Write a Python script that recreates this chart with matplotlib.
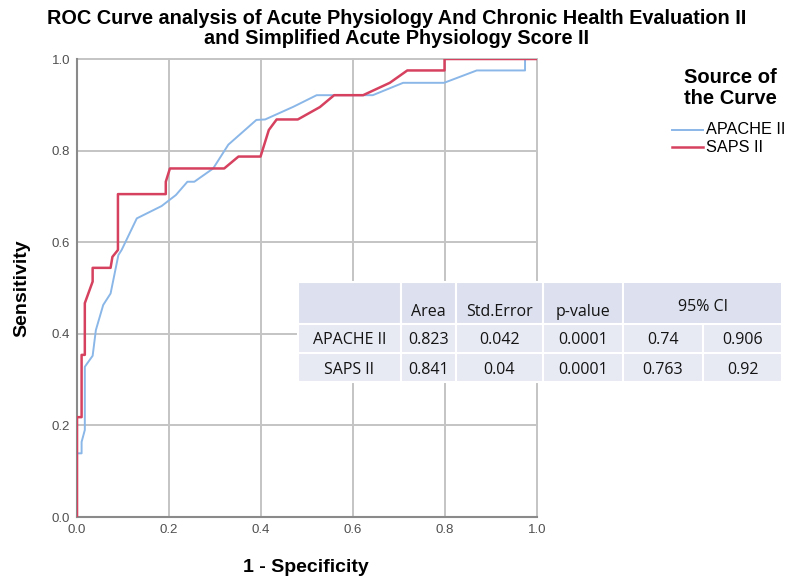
import matplotlib.pyplot as plt
from matplotlib.patches import Rectangle
from matplotlib.lines import Line2D

plt.rcParams['font.family'] = ['Liberation Sans', 'DejaVu Sans']

# ROC points (1 - specificity, sensitivity)
apache_fpr = [0.0, 0.0, 0.010, 0.010, 0.017, 0.017, 0.034, 0.041, 0.057, 0.073, 0.090, 0.097,
              0.130, 0.184, 0.215, 0.240, 0.255, 0.296, 0.329, 0.390, 0.409, 0.471, 0.521,
              0.643, 0.709, 0.798, 0.869, 0.974, 0.974, 1.0]
apache_tpr = [0.0, 0.139, 0.139, 0.164, 0.190, 0.328, 0.352, 0.408, 0.463, 0.488, 0.572, 0.583,
              0.652, 0.679, 0.703, 0.732, 0.732, 0.761, 0.813, 0.867, 0.868, 0.896, 0.921,
              0.921, 0.948, 0.948, 0.975, 0.975, 1.0, 1.0]

saps_fpr = [0.0, 0.0, 0.010, 0.010, 0.017, 0.017, 0.034, 0.034, 0.073, 0.077, 0.089, 0.089,
            0.193, 0.193, 0.202, 0.320, 0.351, 0.399, 0.417, 0.434, 0.480, 0.528, 0.559,
            0.622, 0.680, 0.718, 0.799, 0.799, 1.0]
saps_tpr = [0.0, 0.218, 0.218, 0.354, 0.354, 0.467, 0.514, 0.544, 0.544, 0.568, 0.583, 0.705,
            0.705, 0.732, 0.761, 0.761, 0.787, 0.787, 0.845, 0.868, 0.868, 0.895, 0.921,
            0.921, 0.948, 0.975, 0.975, 1.0, 1.0]

# summary table
col_labels = ['', 'Area', 'Std.Error', 'p-value', '95% CI', '']
row_names = ['APACHE II', 'SAPS II']
area = ['0.823', '0.841']
std_err = ['0.042', '0.04']
p_value = ['0.0001', '0.0001']
ci_low = ['0.74', '0.763']
ci_high = ['0.906', '0.92']

blue = '#8ab7e8'
red = '#d6415f'

fig = plt.figure(figsize=(7.91, 5.80), dpi=100)
W, H = 791, 580
ax = fig.add_axes([77 / W, 1 - 517 / H, 460 / W, 458 / H])

ax.plot(apache_fpr, apache_tpr, color=blue, lw=1.4, label='APACHE II', zorder=3)
ax.plot(saps_fpr, saps_tpr, color=red, lw=1.8, label='SAPS II', zorder=4)

ticks = [0.0, 0.2, 0.4, 0.6, 0.8, 1.0]
ax.set_xlim(0, 1)
ax.set_ylim(0, 1)
ax.set_xticks(ticks)
ax.set_yticks(ticks)
ax.set_xticklabels(['%.1f' % t for t in ticks], fontsize=9.5, color='#505050')
ax.set_yticklabels(['%.1f' % t for t in ticks], fontsize=9.5, color='#505050')
ax.tick_params(length=0, pad=5)
for t in ticks[1:]:
    ax.axvline(t, color='#c4c4c4', lw=1.4, zorder=1, clip_on=False)
    ax.axhline(t, color='#c4c4c4', lw=1.4, zorder=1, clip_on=False)
for s in ['top', 'right']:
    ax.spines[s].set_visible(False)
for s in ['left', 'bottom']:
    ax.spines[s].set_color('#8a8a8a')
    ax.spines[s].set_linewidth(1.5)

fig.text(306 / W, 1 - 567 / H, '1 - Specificity', ha='center', va='center',
         fontsize=14, fontweight='bold')
fig.text(22 / W, 1 - 288 / H, 'Sensitivity', ha='center', va='center', rotation=90,
         fontsize=14, fontweight='bold')

fig.text(397 / W, 1 - 19 / H, 'ROC Curve analysis of Acute Physiology And Chronic Health Evaluation II',
         ha='center', va='center', fontsize=14.3, fontweight='bold')
fig.text(397 / W, 1 - 39 / H, 'and Simplified Acute Physiology Score II',
         ha='center', va='center', fontsize=14.3, fontweight='bold')

# legend
fig.text(730 / W, 1 - 78 / H, 'Source of', ha='center', va='center',
         fontsize=14.5, fontweight='bold')
fig.text(730 / W, 1 - 99 / H, 'the Curve', ha='center', va='center',
         fontsize=14.5, fontweight='bold')
for i, (name, c, lw) in enumerate([('APACHE II', blue, 1.4), ('SAPS II', red, 1.8)]):
    y = 1 - (130 + 17 * i) / H
    fig.add_artist(Line2D([672 / W, 703 / W], [y, y], color=c, lw=lw))
    fig.text(706 / W, y, name, ha='left', va='center', fontsize=11.7)

# table drawn in pixel coordinates
tax = fig.add_axes([0, 0, 1, 1])
tax.set_xlim(0, W)
tax.set_ylim(H, 0)
tax.axis('off')
col_x = [298, 401, 456, 543, 623, 703, 782]
row_y = [282, 324, 353, 382]
head_bg = '#dde0ee'
body_bg = '#e7e9f3'
tfont = dict(fontsize=11.5, family=['Open Sans', 'DejaVu Sans'], color='#141414')
for r in range(3):
    for c in range(6):
        tax.add_patch(Rectangle((col_x[c], row_y[r]), col_x[c + 1] - col_x[c],
                                row_y[r + 1] - row_y[r], facecolor=head_bg if r == 0 else body_bg,
                                edgecolor='white', lw=1.5))
# merge the CI header
tax.add_patch(Rectangle((col_x[4] + 1, row_y[0] + 1), col_x[6] - col_x[4] - 2,
                        row_y[1] - row_y[0] - 2, facecolor=head_bg, edgecolor='none'))
for c, lab in enumerate(col_labels[:4]):
    tax.text((col_x[c] + col_x[c + 1]) / 2, 312, lab, ha='center', va='center', **tfont)
tax.text((col_x[4] + col_x[6]) / 2, 307, col_labels[4], ha='center', va='center', **tfont)
rows = list(zip(row_names, area, std_err, p_value, ci_low, ci_high))
for r, vals in enumerate(rows):
    yc = (row_y[r + 1] + row_y[r + 2]) / 2 + 2
    for c, v in enumerate(vals):
        tax.text((col_x[c] + col_x[c + 1]) / 2, yc, v, ha='center', va='center', **tfont)

fig.savefig('out.png', dpi=100)
